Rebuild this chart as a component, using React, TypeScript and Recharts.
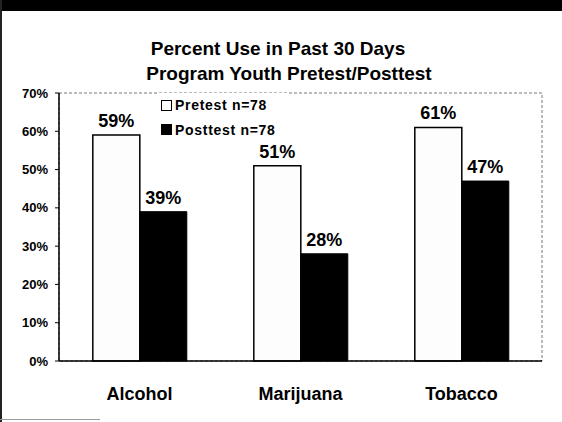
import { BarChart, Bar, XAxis, YAxis, Legend, LabelList, ReferenceArea } from "recharts";

const categories = ["Alcohol", "Marijuana", "Tobacco"];
const pretest = [59, 51, 61];
const posttest = [39, 28, 47];
const seriesNames = ["Pretest n=78", "Posttest n=78"];
const yTicks = [0, 10, 20, 30, 40, 50, 60, 70];

const data = categories.map((name, i) => ({
  name,
  pretest: pretest[i],
  posttest: posttest[i],
}));

const FONT = '"Liberation Sans", Arial, sans-serif';

// legend drawn like the scanned one: small squares, bold text
const renderLegend = () => (
  <div style={{ background: "#fff", padding: "0 0 0 4px", fontFamily: FONT }}>
    {seriesNames.map((n, i) => (
      <div
        key={n}
        style={{ display: "flex", alignItems: "center", height: 24.5, fontSize: 14, fontWeight: 700, letterSpacing: 0.7 }}
      >
        <span
          style={{
            width: 9,
            height: 9,
            marginRight: 3,
            border: "1.5px solid #000",
            background: i === 0 ? "#fff" : "#000",
          }}
        />
        {n}
      </div>
    ))}
  </div>
);

export default function App() {
  return (
    <div
      style={{
        position: "absolute",
        left: 0,
        top: 0,
        width: 562,
        height: 422,
        background: "#fff",
        fontFamily: FONT,
        overflow: "hidden",
      }}
    >
      {/* scan artefacts: black strip on top, dark left edge */}
      <div style={{ position: "absolute", left: 0, top: 0, width: 562, height: 11, background: "#000" }} />
      <div style={{ position: "absolute", left: 0, top: 0, width: 2, height: 422, background: "#222" }} />
      <div style={{ position: "absolute", left: 0, top: 419, width: 100, height: 1, background: "#999" }} />

      <div style={{ position: "absolute", left: 0, top: 38, width: 556, textAlign: "center", fontSize: 19, fontWeight: 700 }}>
        Percent Use in Past 30 Days
      </div>
      <div style={{ position: "absolute", left: 0, top: 63, width: 578, textAlign: "center", fontSize: 19, fontWeight: 700 }}>
        Program Youth Pretest/Posttest
      </div>

      <BarChart
        width={562}
        height={422}
        data={data}
        margin={{ top: 93, right: 20, left: 0, bottom: 0 }}
        barCategoryGap="21%"
        barGap={0}
        style={{ position: "absolute", left: 0, top: 0 }}
      >
        <ReferenceArea y1={0} y2={70} stroke="#777" strokeDasharray="3 2" fill="none" fillOpacity={0} />
        <XAxis
          dataKey="name"
          height={61}
          tickLine={false}
          tickSize={0}
          tickMargin={26}
          axisLine={{ stroke: "#000", strokeWidth: 1.5 }}
          tick={{ fill: "#000", fontSize: 18, fontWeight: 700, fontFamily: FONT }}
        />
        <YAxis
          width={59}
          domain={[0, 70]}
          ticks={yTicks}
          interval={0}
          tickFormatter={(v) => `${v}%`}
          tickSize={4}
          tickMargin={7}
          axisLine={{ stroke: "#000", strokeWidth: 1.5 }}
          tickLine={{ stroke: "#000" }}
          tick={{ fill: "#000", fontSize: 13, fontWeight: 700, fontFamily: FONT }}
        />
        <Legend
          content={renderLegend}
          layout="vertical"
          align="center"
          verticalAlign="middle"
          wrapperStyle={{ left: 157, top: 93, width: 131 }}
        />
        <Bar dataKey="pretest" name={seriesNames[0]} fill="#fdfdfd" stroke="#000" strokeWidth={1.5} isAnimationActive={false}>
          <LabelList
            dataKey="pretest"
            position="top"
            offset={8}
            formatter={(v) => `${v}%`}
            style={{ fill: "#000", fontSize: 18, fontWeight: 700, fontFamily: FONT }}
          />
        </Bar>
        <Bar dataKey="posttest" name={seriesNames[1]} fill="#000" stroke="#000" strokeWidth={1} isAnimationActive={false}>
          <LabelList
            dataKey="posttest"
            position="top"
            offset={8}
            formatter={(v) => `${v}%`}
            style={{ fill: "#000", fontSize: 18, fontWeight: 700, fontFamily: FONT }}
          />
        </Bar>
      </BarChart>
    </div>
  );
}
